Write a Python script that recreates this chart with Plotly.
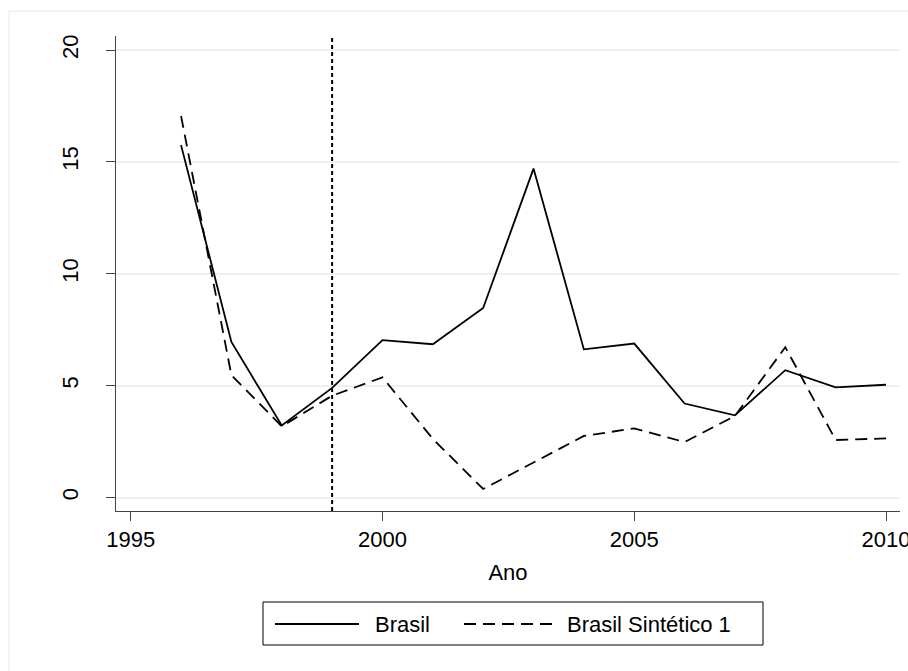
import plotly.graph_objects as go

years = list(range(1996, 2011))
brasil = [15.75, 6.95, 3.22, 4.9, 7.03, 6.85, 8.47, 14.7, 6.62, 6.88, 4.2, 3.67, 5.69, 4.92, 5.04]
sintetico = [17.05, 5.47, 3.18, 4.55, 5.37, 2.62, 0.38, 1.58, 2.75, 3.09, 2.48, 3.64, 6.72, 2.57, 2.64]
names = ["Brasil", "Brasil Sintético 1"]
x_ticks = [1995, 2000, 2005, 2010]
y_ticks = [0, 5, 10, 15, 20]
treat_year = 1999

FONT = "Liberation Sans, Arial, Helvetica, sans-serif"
FS = 22

L, R, T, B = 116, 8, 36, 160
W, H = 908, 671
PW = W - L - R
PH = H - T - B


def px_x(p):
    return (p - L) / PW


def px_y(p):
    return (T + PH - p) / PH


fig = go.Figure()
fig.add_trace(go.Scatter(x=years, y=brasil, mode="lines", name=names[0],
                         line=dict(color="black", width=1.8), showlegend=False))
fig.add_trace(go.Scatter(x=years, y=sintetico, mode="lines", name=names[1],
                         line=dict(color="black", width=1.8, dash="12px,7px"), showlegend=False))

# vertical treatment line
fig.add_shape(type="line", xref="x", yref="paper", x0=treat_year, x1=treat_year, y0=0, y1=px_y(38),
              line=dict(color="black", width=2, dash="4px,3px"))

# outer graph region outline
fig.add_shape(type="rect", xref="paper", yref="paper", x0=px_x(9), x1=px_x(940), y0=px_y(700), y1=px_y(11),
              line=dict(color="#E6EBEB", width=1), layer="below")

# custom legend
fig.add_shape(type="rect", xref="paper", yref="paper", x0=px_x(263), x1=px_x(763), y0=px_y(645), y1=px_y(602),
              line=dict(color="black", width=1))
ly = px_y(624)
fig.add_shape(type="line", xref="paper", yref="paper", x0=px_x(275), x1=px_x(359), y0=ly, y1=ly,
              line=dict(color="black", width=1.8))
fig.add_shape(type="line", xref="paper", yref="paper", x0=px_x(464), x1=px_x(552), y0=ly, y1=ly,
              line=dict(color="black", width=1.8, dash="12px,7px"))
fig.add_annotation(xref="paper", yref="paper", x=px_x(373), y=ly, text=names[0], showarrow=False,
                   xanchor="left", yanchor="middle", font=dict(family=FONT, size=FS, color="black"))
fig.add_annotation(xref="paper", yref="paper", x=px_x(565), y=ly, text=names[1], showarrow=False,
                   xanchor="left", yanchor="middle", font=dict(family=FONT, size=FS, color="black"))

fig.update_layout(
    width=W, height=H, autosize=False,
    margin=dict(l=L, r=R, t=T, b=B, autoexpand=False),
    paper_bgcolor="white", plot_bgcolor="white",
    font=dict(family=FONT, size=FS, color="black"),
)
fig.update_xaxes(range=[1994.708, 2010.278], tickvals=x_ticks, ticks="outside", ticklen=9,
                 tickcolor="#444", tickwidth=1, showline=True, linecolor="#444", linewidth=1,
                 showgrid=False, zeroline=False, tickfont=dict(size=FS, color="black"),
                 ticklabeloverflow="allow", automargin=False,
                 title=dict(text="Ano", font=dict(size=FS, color="black"), standoff=13))
fig.update_yaxes(range=[-0.603, 20.626], tickvals=y_ticks, ticks="outside", ticklen=9,
                 tickcolor="#444", tickwidth=1, showline=True, linecolor="#444", linewidth=1,
                 showgrid=True, gridcolor="#EAF1F3", gridwidth=1.5, zeroline=False, automargin=False,
                 tickangle=-90, ticklabelstandoff=19, tickfont=dict(size=FS, color="black"))

fig.write_html(
    "out.html",
    config={"displayModeBar": False},
    post_script="document.body.style.margin='0';document.documentElement.style.overflow='hidden';",
)
